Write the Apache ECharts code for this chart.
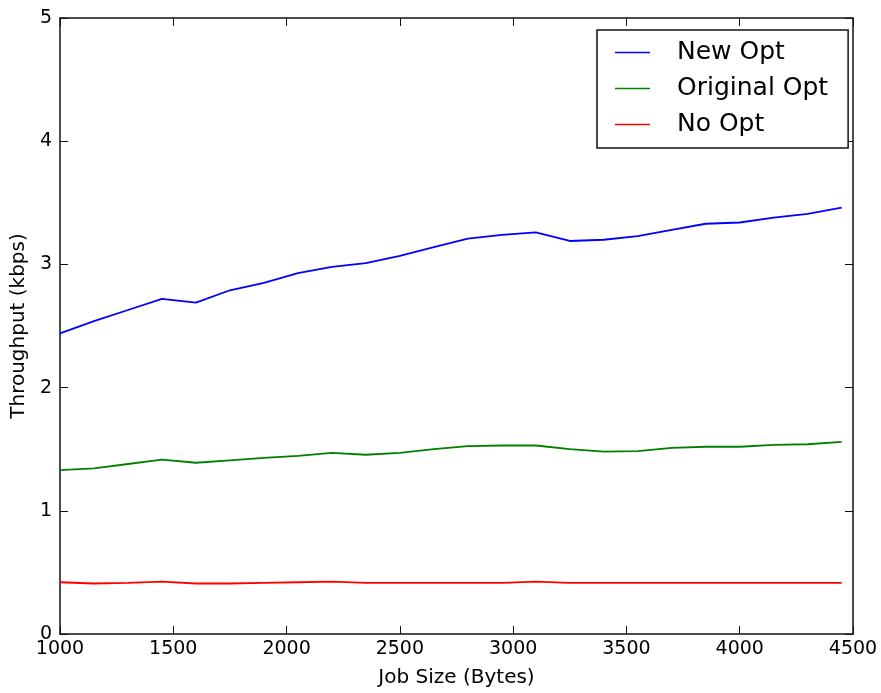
<!DOCTYPE html>
<html>
<head>
<meta charset="utf-8">
<script src="https://cdn.jsdelivr.net/npm/echarts@6/dist/echarts.min.js"></script>
<style>
  html, body { margin: 0; padding: 0; background: #fff; }
  #chart { width: 881px; height: 693px; }
</style>
</head>
<body>
<div id="chart"></div>
<script>
// Job sizes (bytes) and measured throughput (kbps) per optimisation mode
const jobSizes = [1000, 1150, 1300, 1450, 1600, 1750, 1900, 2050, 2200, 2350, 2500, 2650,
                  2800, 2950, 3100, 3250, 3400, 3550, 3700, 3850, 4000, 4150, 4300, 4450];
const newOpt = [2.44, 2.54, 2.63, 2.72, 2.69, 2.79, 2.85, 2.93, 2.98, 3.01, 3.07, 3.14,
                3.21, 3.24, 3.26, 3.19, 3.20, 3.23, 3.28, 3.33, 3.34, 3.38, 3.41, 3.46];
const originalOpt = [1.33, 1.345, 1.38, 1.415, 1.39, 1.41, 1.43, 1.445, 1.47, 1.455, 1.47, 1.50,
                     1.525, 1.53, 1.53, 1.50, 1.48, 1.485, 1.51, 1.52, 1.52, 1.535, 1.54, 1.56];
const noOpt = [0.42, 0.41, 0.415, 0.425, 0.41, 0.41, 0.415, 0.42, 0.425, 0.415, 0.415, 0.415,
               0.415, 0.415, 0.425, 0.415, 0.415, 0.415, 0.415, 0.415, 0.415, 0.415, 0.415, 0.415];
const seriesNames = ['New Opt', 'Original Opt', 'No Opt'];
const xTicks = { min: 1000, max: 4500, step: 500 };
const yTicks = { min: 0, max: 5, step: 1 };

const FONT = 'DejaVu Sans';
const chart = echarts.init(document.getElementById('chart'), null, { renderer: 'canvas' });

const pair = ys => jobSizes.map((x, i) => [x, ys[i]]);
const frameLine = { show: true, onZero: false, lineStyle: { color: '#111', width: 1.5 } };
const innerTick = { show: true, inside: true, length: 8, lineStyle: { color: '#111', width: 1 } };
const plain = v => String(v);

chart.setOption({
  animation: false,
  backgroundColor: '#fff',
  grid: { left: 60, right: 28, top: 18, bottom: 58, containLabel: false },
  legend: {
    left: 597, top: 30,
    orient: 'vertical',
    data: seriesNames,
    icon: 'rect',
    itemWidth: 35, itemHeight: 1.5,
    itemGap: 11,
    padding: [10, 20, 11, 18],
    borderColor: '#111', borderWidth: 1.5,
    backgroundColor: '#fff',
    textStyle: { fontFamily: FONT, fontSize: 25, color: '#000', padding: [0, 0, 0, 22] }
  },
  xAxis: [
    {
      type: 'value', min: xTicks.min, max: xTicks.max, interval: xTicks.step,
      position: 'bottom',
      name: 'Job Size (Bytes)', nameLocation: 'middle', nameGap: 34,
      nameTextStyle: { fontFamily: FONT, fontSize: 20, color: '#000' },
      axisLine: frameLine, axisTick: innerTick,
      axisLabel: { fontFamily: FONT, fontSize: 19, color: '#000', margin: 6, formatter: plain },
      splitLine: { show: false }
    },
    {
      type: 'value', min: xTicks.min, max: xTicks.max, interval: xTicks.step,
      position: 'top',
      axisLine: frameLine, axisTick: innerTick,
      axisLabel: { show: false }, splitLine: { show: false }
    }
  ],
  yAxis: [
    {
      type: 'value', min: yTicks.min, max: yTicks.max, interval: yTicks.step,
      position: 'left',
      name: 'Throughput (kbps)', nameLocation: 'middle', nameGap: 28,
      nameTextStyle: { fontFamily: FONT, fontSize: 20, color: '#000' },
      axisLine: frameLine, axisTick: innerTick,
      axisLabel: { fontFamily: FONT, fontSize: 19, color: '#000', margin: 8, formatter: plain },
      splitLine: { show: false }
    },
    {
      type: 'value', min: yTicks.min, max: yTicks.max, interval: yTicks.step,
      position: 'right',
      axisLine: frameLine, axisTick: innerTick,
      axisLabel: { show: false }, splitLine: { show: false }
    }
  ],
  series: [
    { name: seriesNames[0], type: 'line', data: pair(newOpt), showSymbol: false,
      color: '#0000ff', lineStyle: { width: 1.8 } },
    { name: seriesNames[1], type: 'line', data: pair(originalOpt), showSymbol: false,
      color: '#008000', lineStyle: { width: 1.8 } },
    { name: seriesNames[2], type: 'line', data: pair(noOpt), showSymbol: false,
      color: '#ff0000', lineStyle: { width: 1.8 } }
  ]
});
</script>
</body>
</html>
